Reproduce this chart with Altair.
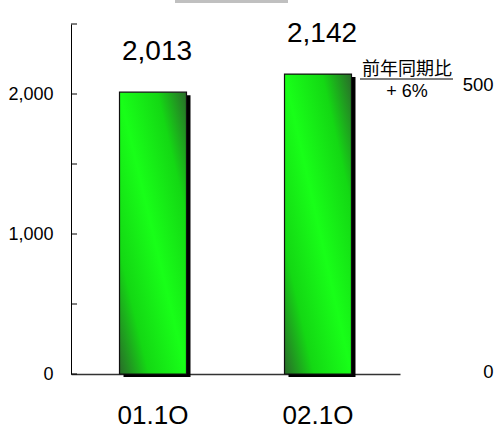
import altair as alt
import pandas as pd

# ---- data ----
categories = ["01.1Q", "02.1Q"]
values = [2013, 2142]
left_ticks = [0, 500, 1000, 1500, 2000, 2500]
left_labels = [0, 1000, 2000]
right_ticks = [0, 500]
note_lines = ["前年同期比", "+ 6%"]

FONT = "Liberation Sans"
CJK = "Noto Sans CJK JP"

bars_df = pd.DataFrame({"cat": categories, "val": values})
ticks_df = pd.DataFrame({"val": left_ticks})
right_df = pd.DataFrame({"r": right_ticks})

x_enc = alt.X(
    "cat:N",
    sort=categories,
    scale=alt.Scale(paddingInner=0.594, paddingOuter=0.294),
    axis=alt.Axis(
        title=None, ticks=False, labelAngle=0, labelFontSize=26, labelFont=FONT,
        labelColor="#000", labelPadding=28, domainColor="#333", domainWidth=1.5,
    ),
)
y_enc = alt.Y(
    "val:Q",
    scale=alt.Scale(domain=[0, 2500], nice=False),
    axis=alt.Axis(
        title=None, values=left_labels, format=",d", ticks=False, grid=False,
        labelFontSize=18, labelFont=FONT, labelColor="#000", labelPadding=18,
        domainColor="#000", domainWidth=1,
    ),
)

grad = alt.Gradient(
    gradient="linear", x1=1, y1=0, x2=0, y2=1,
    stops=[
        alt.GradientStop(color="#2a6a2a", offset=0),
        alt.GradientStop(color="#14d814", offset=0.22),
        alt.GradientStop(color="#18ff18", offset=0.5),
        alt.GradientStop(color="#14d814", offset=0.78),
        alt.GradientStop(color="#2a6a2a", offset=1),
    ],
)

base = alt.Chart(bars_df)
shadow = base.mark_bar(color="#000", xOffset=4, yOffset=3).encode(x=x_enc, y=y_enc)
bars = base.mark_bar(color=grad, stroke="#111", strokeWidth=1.2).encode(x=x_enc, y=y_enc)
labels = base.mark_text(
    fontSize=28, font=FONT, color="#000", dy=-40, dx=4, baseline="middle"
).encode(x=x_enc, y=y_enc, text=alt.Text("val:Q", format=",d"))

tick_marks = alt.Chart(ticks_df).mark_rule(color="#000", strokeWidth=1).encode(
    y=alt.Y("val:Q"), x=alt.value(0), x2=alt.value(6)
)

note_df = pd.DataFrame({"t": note_lines, "i": [0, 1]})
note1 = alt.Chart(note_df).transform_filter("datum.i == 0").mark_text(
    fontSize=18, font=CJK, color="#000", align="center", baseline="middle"
).encode(text="t:N", x=alt.value(336), y=alt.value(46))
note2 = alt.Chart(note_df).transform_filter("datum.i == 1").mark_text(
    fontSize=18, font=FONT, color="#000", align="center", baseline="middle"
).encode(text="t:N", x=alt.value(336), y=alt.value(68))
underline = alt.Chart(note_df).transform_filter("datum.i == 0").mark_rule(
    color="#000", strokeWidth=1
).encode(x=alt.value(289), x2=alt.value(382), y=alt.value(55))

top_box = alt.Chart(note_df).transform_filter("datum.i == 0").mark_rect(
    color="#c0c0c0", clip=False
).encode(x=alt.value(104), x2=alt.value(217), y=alt.value(-24), y2=alt.value(-21))

inner = alt.layer(shadow, bars, labels, tick_marks, underline, note1, note2, top_box)

right = alt.Chart(right_df).mark_point(opacity=0).encode(
    y=alt.Y(
        "r:Q",
        scale=alt.Scale(domain=[0, 610], nice=False),
        axis=alt.Axis(
            orient="right", title=None, values=right_ticks, domain=False, ticks=False,
            grid=False, labelPadding=93, labelAlign="right", labelFontSize=18.5,
            labelFont=FONT, labelColor="#000", labelOffset=-3,
        ),
    )
)

chart = (
    alt.layer(inner, right)
    .resolve_scale(y="independent")
    .properties(
        width=329, height=350,
        autosize=alt.AutoSizeParams(type="none"),
        padding={"left": 71, "top": 24, "right": 98, "bottom": 50},
        background="#ffffff",
    )
    .configure_view(stroke=None)
)

chart.save("out.html", embed_options={"renderer": "svg", "actions": False})
